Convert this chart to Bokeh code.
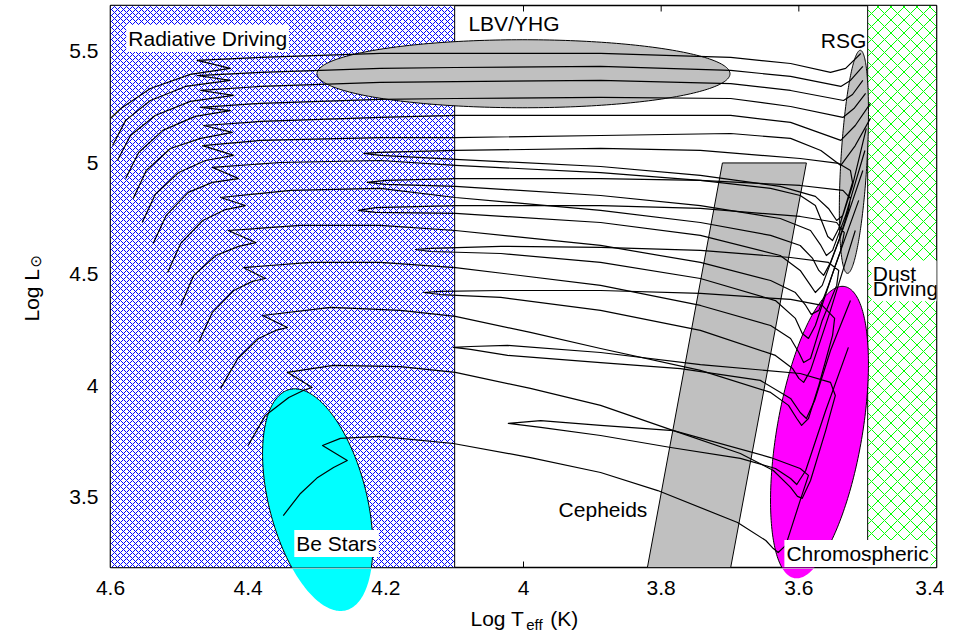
import numpy as np
from bokeh.plotting import figure
from bokeh.models import Range1d, FixedTicker, Label, NumeralTickFormatter
from bokeh.core.properties import value
from bokeh.embed import file_html
from bokeh.resources import INLINE

# ---------------- axes / ticks ----------------
x_ticks = [4.6, 4.4, 4.2, 4.0, 3.8, 3.6, 3.4]
x_tick_labels = ["4.6", "4.4", "4.2", "4", "3.8", "3.6", "3.4"]
y_ticks = [3.5, 4.0, 4.5, 5.0, 5.5]
y_tick_labels = ["3.5", "4", "4.5", "5", "5.5"]

X_LEFT, X_RIGHT = 4.6, 3.4
Y_BOTTOM, Y_TOP = 3.186, 5.706
FRAME_W, FRAME_H = 826, 562

# ---------------- regions ----------------
radiative_logT = (4.6, 4.1)
dust_logT = (3.5, 3.4)
cepheid_logT = [3.711, 3.589, 3.699, 3.820]
cepheid_logL = [5.0, 5.0, Y_BOTTOM, Y_BOTTOM]
# ellipses: centre logT, centre logL, width (logT), height (logL), tilt (rad)
lbv_ellipse = (4.000, 5.400, 0.600, 0.305, 0.0)
rsg_ellipse = (3.520, 5.005, 0.038, 1.002, -0.058)
be_ellipse = (4.299, 3.489, 0.142, 1.022, 0.25)
chromo_ellipse = (3.570, 3.792, 0.124, 1.327, -0.17)

# ---------------- evolutionary tracks ----------------
t1_logT = [4.615, 4.585, 4.542, 4.484, 4.426, 4.474, 4.382, 4.208, 4.099, 3.888, 3.699, 3.612, 3.554, 3.532, 3.510]
t1_logL = [5.155, 5.244, 5.334, 5.397, 5.424, 5.460, 5.473, 5.491, 5.491, 5.491, 5.473, 5.446, 5.406, 5.424, 5.491]
t2_logT = [4.597, 4.578, 4.542, 4.491, 4.426, 4.474, 4.382, 4.208, 4.099, 3.888, 3.699, 3.612, 3.539, 3.525, 3.507]
t2_logL = [5.078, 5.191, 5.280, 5.343, 5.370, 5.392, 5.406, 5.424, 5.428, 5.433, 5.415, 5.388, 5.343, 5.370, 5.433]
t3_logT = [4.590, 4.571, 4.535, 4.484, 4.421, 4.469, 4.382, 4.208, 4.099, 3.888, 3.699, 3.612, 3.535, 3.522, 3.507]
t3_logL = [5.011, 5.123, 5.213, 5.276, 5.303, 5.325, 5.343, 5.361, 5.365, 5.370, 5.356, 5.325, 5.280, 5.307, 5.370]
t4_logT = [4.578, 4.559, 4.524, 4.477, 4.426, 4.469, 4.382, 4.208, 4.099, 3.888, 3.699, 3.612, 3.536, 3.520, 3.503]
t4_logL = [4.930, 5.047, 5.146, 5.209, 5.235, 5.249, 5.267, 5.285, 5.289, 5.294, 5.289, 5.253, 5.204, 5.244, 5.312]
t5_logT = [4.567, 4.548, 4.513, 4.469, 4.423, 4.465, 4.382, 4.208, 4.099, 3.888, 3.699, 3.612, 3.539, 3.518, 3.496]
t5_logL = [4.841, 4.966, 5.065, 5.110, 5.137, 5.168, 5.186, 5.204, 5.213, 5.213, 5.213, 5.182, 5.101, 5.168, 5.267]
t6_logT = [4.554, 4.535, 4.501, 4.462, 4.421, 4.466, 4.382, 4.208, 4.099, 3.888, 3.699, 3.612, 3.568, 3.539, 3.518, 3.496]
t6_logL = [4.733, 4.859, 4.957, 5.011, 5.034, 5.078, 5.101, 5.114, 5.114, 5.123, 5.132, 5.110, 5.056, 4.989, 5.078, 5.200]
t7_logT = [4.538, 4.519, 4.487, 4.452, 4.414, 4.452, 4.353, 4.208, 4.099, 3.888, 3.743, 3.641, 3.598, 3.576, 3.566,
           3.558, 3.551, 3.542, 3.532, 3.522, 3.525, 3.542, 3.598, 3.743, 3.888, 4.099, 4.208, 4.232, 4.208, 4.099,
           3.888, 3.743, 3.627, 3.576, 3.557, 3.545, 3.536, 3.522, 3.502]
t7_logL = [4.639, 4.765, 4.868, 4.913, 4.930, 4.980, 5.002, 5.011, 4.989, 4.957, 4.922, 4.886, 4.854, 4.809, 4.733,
           4.670, 4.652, 4.706, 4.809, 4.913, 4.966, 4.998, 5.020, 5.056, 5.065, 5.056, 5.047, 5.043, 5.034, 5.016,
           4.984, 4.944, 4.895, 4.850, 4.796, 4.742, 4.765, 4.899, 5.155]
t8_logT = [4.517, 4.498, 4.466, 4.433, 4.404, 4.440, 4.338, 4.208, 4.099, 3.888, 3.743, 3.641, 3.598, 3.580, 3.571,
           3.564, 3.554, 3.542, 3.528, 3.525, 3.536, 3.598, 3.743, 3.888, 4.099, 4.200, 4.227, 4.200, 4.099, 3.888,
           3.743, 3.627, 3.583, 3.568, 3.560, 3.551, 3.532, 3.504]
t8_logL = [4.509, 4.639, 4.742, 4.791, 4.809, 4.845, 4.877, 4.886, 4.845, 4.787, 4.733, 4.675, 4.630, 4.572, 4.518,
           4.496, 4.554, 4.652, 4.787, 4.841, 4.877, 4.899, 4.922, 4.930, 4.930, 4.922, 4.913, 4.904, 4.895, 4.854,
           4.809, 4.751, 4.697, 4.630, 4.585, 4.608, 4.765, 5.056]
t9_logT = [4.498, 4.479, 4.447, 4.414, 4.389, 4.429, 4.324, 4.208, 4.099, 3.888, 3.743, 3.641, 3.605, 3.590, 3.582,
           3.571, 3.557, 3.539, 3.534, 3.545, 3.598, 3.743, 3.888, 4.099, 4.215, 4.240, 4.215, 4.099, 3.888, 3.743,
           3.627, 3.598, 3.583, 3.576, 3.566, 3.539, 3.507]
t9_logL = [4.361, 4.496, 4.585, 4.626, 4.643, 4.697, 4.720, 4.720, 4.697, 4.630, 4.554, 4.473, 4.419, 4.361, 4.321,
           4.339, 4.451, 4.608, 4.688, 4.733, 4.760, 4.796, 4.809, 4.809, 4.800, 4.787, 4.778, 4.774, 4.733, 4.675,
           4.585, 4.518, 4.451, 4.419, 4.451, 4.675, 4.966]
t10_logT = [4.472, 4.452, 4.421, 4.394, 4.375, 4.407, 4.309, 4.208, 4.099, 3.888, 3.743, 3.641, 3.612, 3.600, 3.593,
            3.583, 3.566, 3.545, 3.542, 3.557, 3.612, 3.743, 3.888, 4.033, 4.135, 4.157, 4.135, 4.033, 3.888, 3.743,
            3.634, 3.605, 3.595, 3.586, 3.576, 3.547, 3.513]
t10_logL = [4.195, 4.330, 4.428, 4.469, 4.482, 4.531, 4.554, 4.554, 4.531, 4.451, 4.361, 4.271, 4.213, 4.150, 4.105,
            4.123, 4.294, 4.451, 4.518, 4.554, 4.576, 4.608, 4.621, 4.626, 4.617, 4.612, 4.603, 4.594, 4.554, 4.482,
            4.383, 4.303, 4.235, 4.213, 4.271, 4.540, 4.832]
t11_logT = [4.440, 4.415, 4.385, 4.360, 4.343, 4.379, 4.280, 4.179, 4.099, 3.990, 3.888, 3.743, 3.641, 3.615, 3.603,
            3.596, 3.586, 3.571, 3.551, 3.548, 3.566, 3.612, 3.743, 3.888, 4.033, 4.121, 4.145, 4.121, 4.033, 3.888,
            3.743, 3.634, 3.609, 3.600, 3.593, 3.583, 3.554, 3.518]
t11_logL = [3.989, 4.123, 4.213, 4.249, 4.262, 4.316, 4.352, 4.339, 4.312, 4.240, 4.168, 4.070, 3.971, 3.913, 3.854,
            3.823, 3.854, 4.002, 4.227, 4.303, 4.361, 4.388, 4.415, 4.428, 4.428, 4.424, 4.419, 4.410, 4.397, 4.339,
            4.249, 4.137, 4.078, 4.034, 4.016, 4.070, 4.339, 4.697]
t12_logT = [4.400, 4.375, 4.341, 4.320, 4.307, 4.343, 4.276, 4.179, 4.099, 3.990, 3.888, 3.782, 3.685, 3.637, 3.612,
            3.602, 3.595, 3.583, 3.561, 3.547, 3.554, 3.598, 3.743, 3.888, 4.023, 4.077, 4.102, 4.077, 4.023, 3.888,
            3.772, 3.656, 3.612, 3.598, 3.589, 3.577, 3.554, 3.525]
t12_logL = [3.733, 3.868, 3.948, 3.980, 3.993, 4.061, 4.092, 4.087, 4.061, 3.989, 3.913, 3.800, 3.697, 3.621, 3.545,
            3.505, 3.496, 3.576, 3.800, 3.957, 4.016, 4.056, 4.096, 4.150, 4.182, 4.177, 4.173, 4.164, 4.137, 4.105,
            4.078, 4.025, 3.944, 3.881, 3.854, 3.935, 4.159, 4.383]
t13_logT = [4.349, 4.324, 4.299, 4.276, 4.256, 4.292, 4.266, 4.208, 4.102, 3.990, 3.888, 3.805, 3.689, 3.648, 3.637,
            3.630, 3.619, 3.598, 3.586, 3.598, 3.641, 3.782, 3.888, 3.975, 4.022, 3.975, 3.888, 3.786, 3.685, 3.634,
            3.612, 3.603, 3.590, 3.561, 3.528]
t13_logL = [3.419, 3.518, 3.590, 3.634, 3.666, 3.733, 3.765, 3.774, 3.742, 3.679, 3.612, 3.531, 3.388, 3.307, 3.271,
            3.253, 3.285, 3.487, 3.599, 3.630, 3.679, 3.800, 3.823, 3.845, 3.832, 3.814, 3.778, 3.724, 3.675, 3.630,
            3.585, 3.558, 3.621, 3.890, 4.173]

tracks_logT = [t1_logT, t2_logT, t3_logT, t4_logT, t5_logT, t6_logT, t7_logT, t8_logT, t9_logT,
               t10_logT, t11_logT, t12_logT, t13_logT]
tracks_logL = [t1_logL, t2_logL, t3_logL, t4_logL, t5_logL, t6_logL, t7_logL, t8_logL, t9_logL,
               t10_logL, t11_logL, t12_logL, t13_logL]

# ---------------- region labels ----------------
label_texts = ["Radiative Driving", "LBV/YHG", "RSG", "Cepheids", "Be Stars", "Chromospheric"]
label_logT = [4.577, 4.080, 3.568, 3.949, 4.333, 3.621]
label_logL = [5.558, 5.626, 5.549, 3.446, 3.294, 3.249]
label_boxed = [True, False, False, False, True, True]
dust_text, dust_logT_pos, dust_logL_pos = "Dust\nDriving", 3.494, 4.561

# axis titles (main text, subscript) placed just outside the frame
xtitle_texts = ["Log T", "eff", "(K)"]
xtitle_logT = [4.077, 3.996, 3.961]
xtitle_logL = [2.958, 2.931, 2.958]
xtitle_sizes = ["21px", "15px", "21px"]
ytitle_texts = ["Log L", "\u2299"]
ytitle_logT = [4.715, 4.708]
ytitle_logL = [4.289, 4.531]
ytitle_sizes = ["21px", "15px"]
ytitle_fonts = ["Liberation Sans", "DejaVu Sans"]

FONT = "Liberation Sans"

p = figure(width=944, height=634, x_range=Range1d(X_LEFT, X_RIGHT), y_range=Range1d(Y_BOTTOM, Y_TOP),
           output_backend="svg", toolbar_location=None,
           min_border_left=110, min_border_right=8, min_border_top=5, min_border_bottom=67)
p.grid.visible = False
p.background_fill_color = "white"
p.border_fill_color = "white"
p.outline_line_color = "black"
p.outline_line_width = 1.6

KX = FRAME_W / (X_LEFT - X_RIGHT)
KY = FRAME_H / (Y_TOP - Y_BOTTOM)


def ellipse_outline(spec, n=240):
    cx, cy, w, h, ang = spec
    t = np.linspace(0.0, 2.0 * np.pi, n)
    u = 0.5 * w * KX * np.cos(t)
    v = 0.5 * h * KY * np.sin(t)
    du = u * np.cos(ang) - v * np.sin(ang)
    dv = u * np.sin(ang) + v * np.cos(ang)
    return cx - du / KX, cy + dv / KY


# inward tick marks on top and bottom (drawn first so hatched regions hide them)
tick_len = 6.0 / KY
p.segment(x0=x_ticks, y0=[Y_TOP] * len(x_ticks), x1=x_ticks, y1=[Y_TOP - tick_len] * len(x_ticks),
          line_color="black", line_width=1)
p.segment(x0=x_ticks, y0=[Y_BOTTOM] * len(x_ticks), x1=x_ticks, y1=[Y_BOTTOM + tick_len] * len(x_ticks),
          line_color="black", line_width=1)

# hatched driving regions
p.quad(left=radiative_logT[0], right=radiative_logT[1], bottom=Y_BOTTOM, top=Y_TOP,
       fill_color="white", hatch_pattern="diagonal_cross", hatch_color="#0000ff",
       hatch_scale=6, hatch_weight=1, line_color="black", line_width=1)
p.quad(left=dust_logT[0], right=dust_logT[1], bottom=Y_BOTTOM, top=Y_TOP,
       fill_color="white", hatch_pattern="diagonal_cross", hatch_color="#00ff00",
       hatch_scale=13, hatch_weight=1, line_color="black", line_width=1)

# grey regions
for spec in (lbv_ellipse, rsg_ellipse):
    ex, ey = ellipse_outline(spec)
    p.patch(ex, ey, fill_color="#c0c0c0", line_color="black", line_width=1)
p.patch(cepheid_logT, cepheid_logL, fill_color="#c0c0c0", line_color="black", line_width=1)

# coloured ellipses
caps = []
for spec, col in ((be_ellipse, "#00ffff"), (chromo_ellipse, "#ff00ff")):
    ex, ey = ellipse_outline(spec)
    p.patch(ex, ey, fill_color=col, line_color="black", line_width=1)
    if (ey < Y_BOTTOM).any():
        caps.append((ex, np.minimum(ey, Y_BOTTOM - 1.2 / KY), col))

# tracks
p.multi_line(xs=tracks_logT, ys=tracks_logL, line_color="black", line_width=1.2, line_join="round")

# parts of the ellipses below the frame
for ex, ey, col in caps:
    r = p.patch(ex, ey, fill_color=col, line_color=None)
    r.level = "overlay"

# axes
xa = p.xaxis[0]
xa.ticker = FixedTicker(ticks=x_ticks)
xa.major_label_overrides = dict(zip(x_ticks, x_tick_labels))
xa.formatter = NumeralTickFormatter(format="0.[0]")
ya = p.yaxis[0]
ya.ticker = FixedTicker(ticks=y_ticks)
ya.major_label_overrides = dict(zip(y_ticks, y_tick_labels))
ya.formatter = NumeralTickFormatter(format="0.[0]")
for ax in (xa, ya):
    ax.axis_line_color = None
    ax.minor_tick_in = 0
    ax.minor_tick_out = 0
    ax.major_tick_out = 0
    ax.major_tick_in = 0
    ax.major_label_text_font = FONT
    ax.major_label_text_font_size = "21px"
    ax.major_label_text_color = "black"
xa.major_label_standoff = 13
ya.major_label_standoff = 12

# region labels
for txt, lx, ly, boxed in zip(label_texts, label_logT, label_logL, label_boxed):
    kw = dict(background_fill_color="white", padding=2) if boxed else {}
    p.add_layout(Label(x=lx, y=ly, text=txt, text_font=FONT, text_font_size="21px",
                       text_color="black", text_align="left", text_baseline="alphabetic", **kw))
p.add_layout(Label(x=dust_logT_pos, y=dust_logL_pos, text=dust_text, text_font=FONT, text_font_size="21px",
                   text_color="black", text_align="left", text_baseline="top", text_line_height=0.67,
                   background_fill_color="white", padding=1))

# axis titles
for txt, tx, ty, sz in zip(xtitle_texts, xtitle_logT, xtitle_logL, xtitle_sizes):
    r = p.text(x=[tx], y=[ty], text=[txt], text_font=value(FONT), text_font_size=sz,
               text_color="black", text_align="left", text_baseline="alphabetic")
    r.level = "overlay"
for txt, tx, ty, sz, fnt in zip(ytitle_texts, ytitle_logT, ytitle_logL, ytitle_sizes, ytitle_fonts):
    r = p.text(x=[tx], y=[ty], text=[txt], angle=np.pi / 2, text_font=value(fnt), text_font_size=sz,
               text_color="black", text_align="left", text_baseline="alphabetic")
    r.level = "overlay"

open("out.html", "w").write(file_html(p, INLINE))
